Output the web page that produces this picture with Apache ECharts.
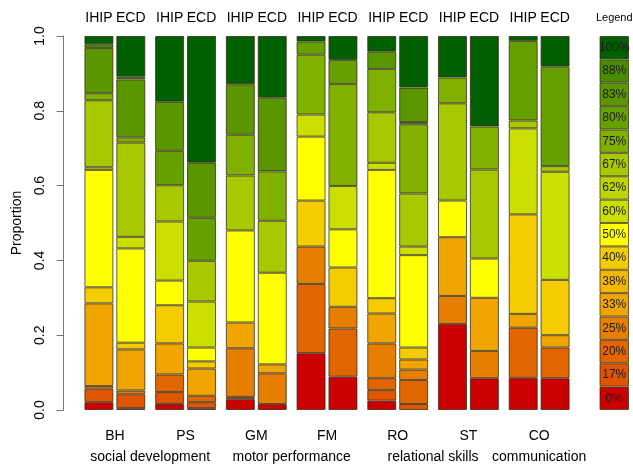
<!DOCTYPE html>
<html>
<head>
<meta charset="utf-8">
<script src="https://cdn.jsdelivr.net/npm/echarts@6/dist/echarts.min.js"></script>
<style>html,body{margin:0;padding:0;background:#fff;}#c{width:633px;height:464px;}</style>
</head>
<body>
<div id="c"></div>
<script>
// ---------- data ----------
const categories = ['BH', 'PS', 'GM', 'FM', 'RO', 'ST', 'CO'];
const groups = ['IHIP', 'ECD'];
const domainNames = ['social development', 'motor performance', 'relational skills', 'communication'];
const domainMembers = [['BH', 'PS'], ['GM', 'FM'], ['RO', 'ST'], ['CO']];
const levels = ['0%', '17%', '20%', '25%', '33%', '38%', '40%', '50%', '60%', '62%', '67%', '75%', '80%', '83%', '88%', '100%'];
const yTicks = [0, 0.2, 0.4, 0.6, 0.8, 1.0];

// proportions per level, order: BH-IHIP, BH-ECD, PS-IHIP, PS-ECD, ... CO-IHIP, CO-ECD
const p0   = [0.021, 0.005, 0.016, 0.005, 0.029, 0.016, 0.152, 0.089, 0.025, 0,     0.230, 0.085, 0.086, 0.085];
const p17  = [0.036, 0.037, 0.032, 0.016, 0.006, 0,     0,     0,     0.028, 0.016, 0,     0,     0,     0];
const p20  = [0,     0,     0.047, 0.017, 0,     0,     0.185, 0.129, 0.032, 0.064, 0,     0,     0.134, 0.082];
const p25  = [0.007, 0.010, 0,     0,     0.130, 0.082, 0.100, 0.058, 0.093, 0.028, 0.075, 0.073, 0,     0];
const p33  = [0.221, 0.110, 0.083, 0.073, 0.069, 0.024, 0,     0,     0.080, 0.027, 0.157, 0.142, 0.037, 0.033];
const p38  = [0,     0,     0,     0,     0,     0,     0,     0,     0,     0,     0,     0,     0,     0];
const p40  = [0.043, 0.018, 0.102, 0.019, 0,     0,     0.123, 0.105, 0.041, 0.032, 0,     0,     0.266, 0.148];
const p50  = [0.314, 0.252, 0.066, 0.037, 0.246, 0.245, 0.171, 0.102, 0.343, 0.247, 0.098, 0.105, 0,     0];
const p60  = [0.007, 0.031, 0.158, 0.123, 0,     0,     0.059, 0.116, 0.019, 0.023, 0,     0,     0.230, 0.289];
const p62  = [0,     0,     0,     0,     0,     0,     0,     0,     0,     0,     0,     0,     0,     0];
const p67  = [0.179, 0.252, 0.097, 0.109, 0.147, 0.139, 0,     0,     0.135, 0.142, 0.260, 0.238, 0.021, 0.015];
const p75  = [0.019, 0.014, 0,     0,     0.109, 0.132, 0.160, 0.273, 0.116, 0.185, 0.069, 0.115, 0,     0];
const p80  = [0,     0,     0.092, 0.115, 0,     0,     0.035, 0.064, 0,     0.006, 0,     0,     0.213, 0.266];
const p83  = [0.121, 0.155, 0.131, 0.147, 0.135, 0.197, 0,     0,     0.046, 0.092, 0,     0,     0,     0];
const p88  = [0.010, 0.007, 0,     0,     0,     0,     0,     0,     0,     0,     0,     0,     0,     0];
const p100 = [0.022, 0.109, 0.176, 0.339, 0.129, 0.165, 0.015, 0.064, 0.042, 0.138, 0.111, 0.242, 0.013, 0.082];
const levelValues = [p0, p17, p20, p25, p33, p38, p40, p50, p60, p62, p67, p75, p80, p83, p88, p100];

// ---------- styles ----------
const levelColors = ['#CC0000', '#E05500', '#E26600', '#E67E00', '#F0A500', '#F2B700', '#F5CC00', '#FFFF00',
  '#CCE000', '#BBD600', '#A8C800', '#80B000', '#66A000', '#5A9600', '#4A8C00', '#006000'];
const FONT = 'Liberation Sans, Arial, sans-serif';

const chart = echarts.init(document.getElementById('c'), null, {renderer: 'canvas'});

const series = [];
levels.forEach((lv, li) => {
  groups.forEach((g, gi) => {
    const data = categories.map((c, ci) => {
      const v = levelValues[li][ci * 2 + gi];
      return v > 0 ? v : null;
    });
    const s = {
      type: 'bar', name: lv, stack: g, xAxisIndex: 0, yAxisIndex: 0,
      barWidth: 29, barGap: '10%',
      data: data,
      itemStyle: {color: levelColors[li], borderColor: 'rgba(50,40,20,0.75)', borderWidth: 1},
      emphasis: {disabled: true},
      silent: true
    };
    if (li === levels.length - 1) {
      s.label = {show: true, position: 'top', distance: 11, formatter: g,
        fontFamily: FONT, fontSize: 14, color: '#000'};
    }
    series.push(s);
  });
});
// legend column
levels.forEach((lv, li) => {
  series.push({
    type: 'bar', name: 'legend ' + lv, stack: 'legend', xAxisIndex: 1, yAxisIndex: 1,
    barWidth: '100%', data: [1],
    itemStyle: {color: levelColors[li], borderColor: 'rgba(50,40,20,0.7)', borderWidth: 1},
    label: {show: true, position: 'inside', formatter: lv, fontFamily: FONT, fontSize: 12, color: '#1a1a1a'},
    emphasis: {disabled: true}, silent: true
  });
});

const option = {
  backgroundColor: '#fff',
  animation: false,
  grid: [
    {left: 79.5, width: 495, top: 36, height: 374},
    {left: 599.5, width: 29.5, top: 36, height: 374}
  ],
  xAxis: [
    {type: 'category', gridIndex: 0, data: categories,
      axisLine: {show: false}, axisTick: {show: false},
      axisLabel: {margin: 19, fontFamily: FONT, fontSize: 14, color: '#000'}},
    {type: 'category', gridIndex: 1, data: ['L'], show: false}
  ],
  yAxis: [
    {type: 'value', gridIndex: 0, min: 0, max: 1, interval: 0.2, offset: 16,
      name: 'Proportion', nameLocation: 'middle', nameGap: 39, nameRotate: 90,
      nameTextStyle: {fontFamily: FONT, fontSize: 14, color: '#000'},
      axisLine: {show: true, lineStyle: {color: '#777', width: 1}},
      axisTick: {show: true, length: 7, lineStyle: {color: '#777'}},
      splitLine: {show: false},
      axisLabel: {rotate: 90, margin: 16, fontFamily: FONT, fontSize: 14, color: '#000',
        formatter: v => yTicks.includes(+v.toFixed(1)) ? v.toFixed(1) : ''}},
    {type: 'value', gridIndex: 1, min: 0, max: levels.length, show: false}
  ],
  series: series
};
chart.setOption(option);

// domain labels centred under their member categories, legend title
const graphics = domainNames.map((name, di) => {
  const xs = domainMembers[di].map(c => chart.convertToPixel({xAxisIndex: 0}, c));
  const cx = xs.reduce((a, b) => a + b, 0) / xs.length;
  return {type: 'text', x: cx, y: 457,
    style: {text: name, fontFamily: FONT, fontSize: 14, fill: '#000', textAlign: 'center', textVerticalAlign: 'middle'}};
});
const legX = chart.convertToPixel({xAxisIndex: 1}, 'L');
const legTop = chart.convertToPixel({yAxisIndex: 1}, levels.length);
graphics.push({type: 'text', x: legX, y: legTop - 18,
  style: {text: 'Legend', fontFamily: FONT, fontSize: 11, fill: '#000', textAlign: 'center', textVerticalAlign: 'middle'}});
chart.setOption({graphic: graphics});
</script>
</body>
</html>
